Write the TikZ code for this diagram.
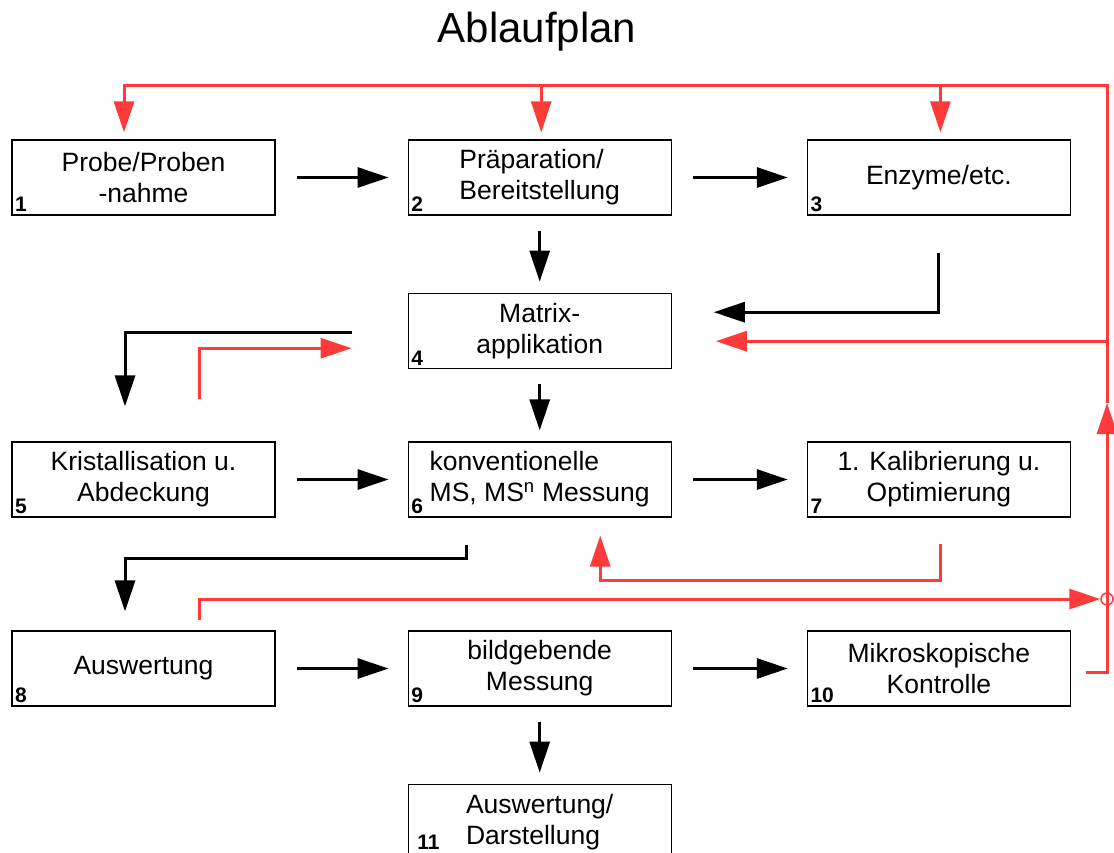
\documentclass[tikz,border=0pt]{standalone}
\usepackage{fontspec}
\setmainfont{Liberation Sans}
\usetikzlibrary{
  arrows.meta,
  positioning
}
\definecolor{fbred}{RGB}{255,58,58}

\tikzset{
  box/.style={draw, line width=1.2pt, minimum width=263pt, minimum height=75pt,
    inner sep=2pt, align=center, font=\fontsize{26.5}{31}\selectfont},
  nr/.style={anchor=south west, inner sep=3.5pt, font=\fontsize{21}{21}\selectfont\bfseries},
  flow/.style={line width=3pt, -{Triangle[length=31pt,width=20pt]}},
  fb/.style={flow, color=fbred},
  hgap/.style={shorten <=21pt, shorten >=19pt},
  vgap/.style={shorten <=15pt, shorten >=11pt}
}

\begin{document}
\begin{tikzpicture}[x=1pt, y=-1pt, node distance=132pt]
\useasboundingbox (0,0) rectangle (1114,852);

\node[font=\fontsize{42}{50}\selectfont] (titel) at (537,32) {Ablaufplan};

% Arbeitsschritte
\node[box] (p1) at (143.5,177.5) {Probe/Proben\\-nahme};
\node[box, right=of p1, align=left] (p2) {Präparation/\\Bereitstellung};
\node[box, right=135pt of p2] (p3) {Enzyme/etc.};
\node[box, below=77pt of p2] (p4) {Matrix-\\applikation};
\node[box] (p5) at (143.5,479.5) {Kristallisation u.\\Abdeckung};
\node[box, right=of p5, align=left] (p6) {konventionelle\\MS, MS\textsuperscript{n} Messung};
\node[box, right=135pt of p6] (p7) {1. Kalibrierung u.\\Optimierung};
\node[box] (p8) at (143.5,668.5) {Auswertung};
\node[box, right=of p8] (p9) {bildgebende\\Messung};
\node[box, right=135pt of p9] (p10) {Mikroskopische\\Kontrolle};
\node[box, below=77pt of p9, align=left] (p11) {Auswertung/\\Darstellung};

\foreach \i in {1,...,10}
  \node[nr] (n\i) at (p\i.south west) {\i};
\node[nr] (n11) at ([xshift=6pt,yshift=7pt]p11.south west) {11};

% Hauptablauf
\path[flow]	(p1)	edge[hgap] (p2)
			(p2)	edge[hgap] (p3)
					edge[vgap] (p4)
			(p4)	edge[vgap] (p6)
			(p5)	edge[hgap] (p6)
			(p6)	edge[hgap] (p7)
			(p8)	edge[hgap] (p9)
			(p9)	edge[hgap] (p10)
					edge[vgap] (p11);

\draw[flow] ([yshift=-37pt]p3.south) |- ([xshift=42pt,yshift=18.5pt]p4.east);
\draw[flow] ([xshift=-56pt,yshift=-1.5pt]p4.west) -| ([xshift=-18.5pt,yshift=35pt]p5.north);
\draw[flow] ([xshift=-73.5pt,yshift=-27pt]p6.south) -- ++(0,14)
  -| ([xshift=-18.5pt,yshift=19pt]p8.north);

% Rueckfuehrungen
\coordinate (ecke) at (1107,85);
\coordinate (rm) at (1107,403);
\coordinate (ru) at (1107,672);
\coordinate (fb2) at ([xshift=1.5pt,yshift=7pt]p2.north);
\coordinate (fb3) at ([xshift=1.5pt,yshift=7pt]p3.north);
\coordinate (fb4) at ([xshift=44pt,yshift=-10.5pt]p4.east);
\node[circle, draw=fbred, line width=1.5pt, minimum size=12pt, inner sep=0pt] (kreis) at (1107,599) {};

\draw[fb] ([xshift=15pt,yshift=-3.5pt]p10.east) -- (ru) -- (rm);
\draw[fb] (rm) -- (ecke) -| ([xshift=-19.5pt,yshift=7pt]p1.north);
\draw[fb] (fb2 |- ecke) -- (fb2);
\draw[fb] (fb3 |- ecke) -- (fb3);
\draw[fb] (rm |- fb4) -- (fb4);
\draw[fb] ([xshift=55.5pt,yshift=42pt]p5.north) |- ([xshift=-56pt,yshift=-17.5pt]p4.west);
\draw[fb] ([xshift=1.5pt,yshift=-26pt]p7.south) -- ++(0,37)
  -| ([xshift=60.5pt,yshift=-18pt]p6.south);
\draw[fb] ([xshift=55.5pt,yshift=10pt]p8.north) |- (kreis.west);
\end{tikzpicture}
\end{document}
